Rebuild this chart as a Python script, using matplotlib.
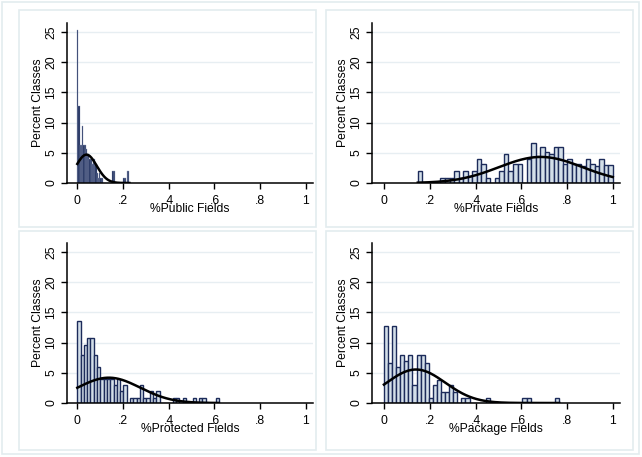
import matplotlib
matplotlib.use("Agg")
import matplotlib.pyplot as plt
from matplotlib.patches import Rectangle
import numpy as np

plt.rcParams['font.family'] = ['Liberation Sans', 'DejaVu Sans']

# histogram bins: start, width and percent of classes per bin
public_start, public_width = 0.0, 0.0053
public_pct = [25.4, 12.7, 6.3, 6.3, 9.5, 6.3, 6.3, 5.6, 4.8, 4.8, 4.0, 4.0,
              3.2, 4.0, 4.0, 3.2, 1.6, 0.8, 1.6, 0.8, 0.8, 0.0, 0.0, 0.0,
              0.0, 0.0, 0.0, 0.0, 0.0, 2.0, 2.0, 0.0, 0.0, 0.0, 0.0, 0.0,
              0.0, 0.0, 0.8, 0.8, 0.0, 2.0, 2.0]

private_start, private_width = 0.148, 0.0198
private_pct = [2.0, 0.0, 0.0, 0.0, 0.0, 0.8, 0.8, 0.8, 2.0, 0.8, 2.0, 1.2,
               2.0, 4.0, 3.2, 0.8, 0.0, 0.8, 2.0, 4.8, 2.0, 3.2, 3.2, 0.0,
               4.0, 6.7, 4.4, 6.0, 5.2, 4.8, 6.0, 6.0, 3.2, 4.0, 3.2, 3.2,
               2.8, 4.0, 3.2, 2.8, 4.0, 3.0, 3.0]

protected_start, protected_width = 0.0, 0.0144
protected_pct = [13.6, 7.9, 9.6, 10.7, 10.7, 7.9, 6.0, 4.0, 4.0, 4.0, 4.0,
                 3.0, 4.0, 2.0, 3.0, 0.0, 0.8, 0.8, 0.8, 3.0, 0.8, 0.8, 2.0,
                 0.8, 2.0, 0.0, 0.0, 0.0, 0.0, 0.8, 0.8, 0.0, 0.8, 0.0, 0.0,
                 0.8, 0.0, 0.8, 0.8, 0.0, 0.0, 0.0, 0.8]

package_start, package_width = 0.0, 0.0178
package_pct = [12.7, 6.7, 12.7, 6.0, 7.9, 7.0, 7.9, 2.9, 7.9, 7.9, 6.7,
               0.8, 3.0, 3.8, 1.9, 1.9, 2.9, 1.9, 0.0, 0.8, 0.8, 0.0, 0.0,
               0.0, 0.0, 0.8, 0.0, 0.0, 0.0, 0.0, 0.0, 0.0, 0.0, 0.0, 0.8,
               0.8, 0.0, 0.0, 0.0, 0.0, 0.0, 0.0, 0.8]

# mean and sd of the normal density overlaid on each histogram
public_norm = (0.040, 0.045)
private_norm = (0.685, 0.183)
protected_norm = (0.138, 0.137)
package_norm = (0.140, 0.128)

x_ticks = [0, 0.2, 0.4, 0.6, 0.8, 1.0]
x_tick_labels = ["0", ".2", ".4", ".6", ".8", "1"]
y_ticks = [0, 5, 10, 15, 20, 25]

navy = "#1c2b5a"
light_fill = "#d3dfe9"
grid_col = "#e7eef2"
frame_col = "#e3ecef"
fs = 8.7

W, H = 642, 457
fig = plt.figure(figsize=(W / 100, H / 100), dpi=100)
fig.patch.set_facecolor("white")

# outer border and light frames around each sub-graph
frames = [(2, 2, 639, 454), (19, 10, 316, 227), (326, 10, 633, 227),
          (19, 231, 316, 450), (326, 231, 633, 450)]
for (x0, y0, x1, y1) in frames:
    fig.patches.append(Rectangle((x0 / W, 1 - y1 / H), (x1 - x0) / W, (y1 - y0) / H,
                                 transform=fig.transFigure, fill=False,
                                 edgecolor=frame_col, lw=1.2))


def panel(rect, start, width, pct, norm, label, dark=False):
    l, t, r, b = rect
    ax = fig.add_axes([l / W, 1 - b / H, (r - l) / W, (b - t) / H])
    edges = start + width * np.arange(len(pct))
    if dark:
        ax.bar(edges, pct, width=width, align="edge", color=navy,
               edgecolor="#8f9bb8", linewidth=0.25, zorder=2)
    else:
        ax.bar(edges, pct, width=width, align="edge", color=light_fill,
               edgecolor=navy, linewidth=1.0, zorder=2)
    mu, sd = norm
    xs = np.linspace(start, start + width * len(pct), 200)
    ys = 100 * width * np.exp(-0.5 * ((xs - mu) / sd) ** 2) / (sd * np.sqrt(2 * np.pi))
    ax.plot(xs, ys, color="black", lw=1.8, zorder=3)

    ax.set_xlim(-0.045 if l < 100 else -0.052, 1.031)
    ax.set_ylim(0, 26.5)
    ax.set_xticks(x_ticks)
    ax.set_xticklabels(x_tick_labels)
    ax.set_yticks(y_ticks)
    ax.set_yticklabels([str(v) for v in y_ticks], rotation=90, va="center")
    for v in y_ticks[1:]:
        ax.axhline(v, color=grid_col, lw=1.0, zorder=1)
    for s in ["top", "right"]:
        ax.spines[s].set_visible(False)
    for s in ["left", "bottom"]:
        ax.spines[s].set_linewidth(1.1)
    ax.tick_params(direction="out", length=4, width=1.0, labelsize=fs)
    ax.tick_params(axis="x", pad=5)
    ax.tick_params(axis="y", pad=3)
    ax.set_xlabel(label, fontsize=fs, labelpad=-3)
    ax.set_ylabel("Percent Classes", fontsize=fs, labelpad=1)
    ax.set_facecolor("none")
    return ax


panel((67, 23, 313, 183), public_start, public_width, public_pct, public_norm,
      "%Public Fields", dark=True)
panel((372, 23, 620, 183), private_start, private_width, private_pct, private_norm,
      "%Private Fields")
panel((67, 243, 313, 403), protected_start, protected_width, protected_pct,
      protected_norm, "%Protected Fields")
panel((372, 243, 620, 403), package_start, package_width, package_pct, package_norm,
      "%Package Fields")

fig.savefig("out.png", dpi=100)
